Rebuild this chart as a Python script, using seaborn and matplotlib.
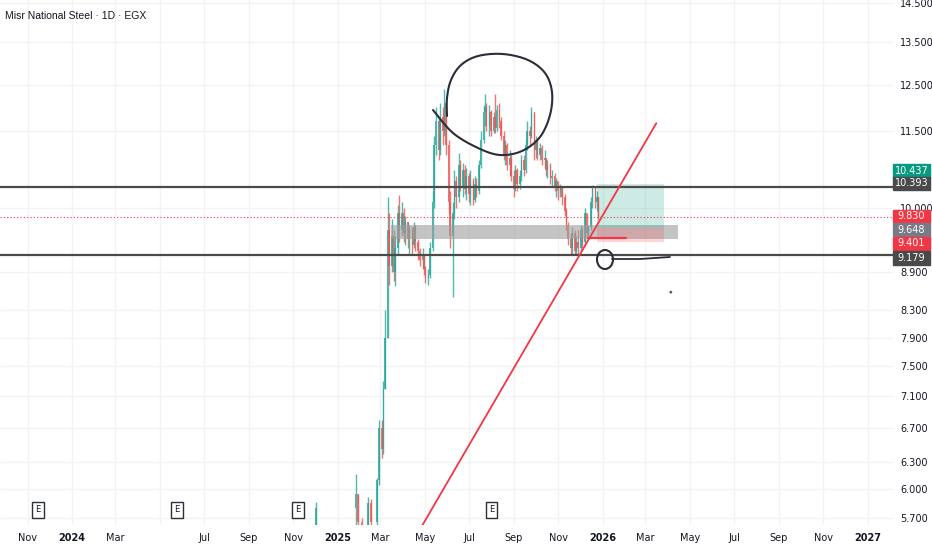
import matplotlib
matplotlib.use("Agg")
import matplotlib.pyplot as plt
import matplotlib.transforms as mtransforms
from matplotlib.patches import Rectangle, Ellipse
from matplotlib.ticker import NullLocator
import numpy as np
import pandas as pd
import seaborn as sns

# --- data (daily candles, thinned to every 2nd session) ---
early_dates = ["2024-12-02", "2025-01-26", "2025-01-29", "2025-02-03",
               "2025-02-12", "2025-02-16", "2025-02-24"]
early_close = [5.80, 5.95, 5.65, 5.62, 5.85, 5.65, 6.10]
early_high = [5.86, 6.17, 5.95, 5.70, 5.92, 5.90, 6.12]
early_low = [5.55, 5.55, 5.60, 5.58, 5.55, 5.60, 5.60]
first_open = 5.60

main_start = "2025-02-27"
main_close = [6.7, 6.45, 7.2, 7.9, 9.6, 9.0, 9.5, 8.9, 9.3, 9.9,
              9.6, 9.9, 9.55, 9.75, 9.45, 9.6, 9.35, 9.65, 9.4, 9.25,
              9.1, 9.2, 8.95, 8.8, 8.85, 9.3, 10.1, 11.2, 11.7, 11.1,
              11.8, 11.5, 12.1, 11.2, 10.1, 9.5, 9.9, 10.5, 10.2, 10.8,
              10.4, 10.7, 10.35, 10.6, 10.25, 10.5, 10.15, 10.45, 10.3, 10.8,
              11.3, 11.9, 12.0, 11.6, 11.9, 11.5, 11.8, 11.55, 11.95, 11.7,
              11.4, 11.0, 11.2, 10.8, 10.95, 10.6, 10.35, 10.7, 10.45, 10.6,
              10.9, 10.7, 11.2, 11.5, 11.4, 11.9, 11.1, 11.3, 11.0, 11.15,
              10.9, 10.95, 10.7, 10.8, 10.55, 10.6, 10.4, 10.5, 10.3, 10.4,
              10.2, 9.95, 9.7, 9.45, 9.3, 9.55, 9.25, 9.4, 9.3, 9.6,
              9.4, 9.9, 9.55, 9.65, 10.1, 10.35, 10.1, 10.2, 9.83]
main_high = [6.8, 6.8, 7.3, 8.3, 10.2, 9.9, 9.8, 9.6, 9.5, 10.05,
             10.24, 10.1, 10.0, 9.85, 9.75, 9.7, 9.65, 9.75, 9.7, 9.45,
             9.3, 9.3, 9.2, 9.0, 8.95, 9.4, 10.3, 11.4, 12.0, 11.8,
             12.1, 12.0, 12.4, 12.1, 11.3, 10.3, 10.1, 10.7, 10.6, 11.05,
             10.9, 10.85, 10.8, 10.75, 10.65, 10.7, 10.55, 10.6, 10.55, 10.9,
             11.5, 12.05, 12.3, 12.1, 12.05, 11.95, 11.9, 12.3, 12.05, 12.1,
             11.8, 11.5, 11.3, 11.25, 11.1, 11.0, 10.7, 10.8, 10.75, 10.7,
             11.0, 11.0, 11.3, 11.7, 11.6, 12.0, 11.9, 11.4, 11.35, 11.25,
             11.2, 11.1, 10.95, 10.9, 10.85, 10.7, 10.65, 10.55, 10.5, 10.45,
             10.4, 10.25, 10.0, 9.75, 9.55, 9.65, 9.6, 9.5, 9.6, 9.7,
             9.65, 10.0, 9.9, 9.7, 10.2, 10.43, 10.4, 10.3, 10.2]
main_low = [6.05, 6.35, 6.4, 7.2, 7.9, 8.7, 8.9, 8.75, 8.68, 9.2,
            9.4, 9.5, 9.4, 9.35, 9.3, 9.2, 9.2, 9.3, 9.25, 9.1,
            9.0, 8.95, 8.85, 8.72, 8.7, 8.8, 9.25, 10.0, 11.0, 10.9,
            11.0, 11.2, 11.4, 11.0, 9.9, 9.3, 8.5, 9.8, 10.0, 10.1,
            10.3, 10.2, 10.25, 10.15, 10.1, 10.05, 10.05, 10.1, 10.2, 10.25,
            10.75, 11.25, 11.6, 11.5, 11.4, 11.4, 11.45, 11.45, 11.5, 11.55,
            11.3, 10.9, 10.8, 10.7, 10.6, 10.5, 10.2, 10.3, 10.3, 10.35,
            10.5, 10.6, 10.65, 11.1, 11.2, 11.35, 10.9, 10.95, 10.9, 10.9,
            10.8, 10.75, 10.6, 10.55, 10.45, 10.4, 10.3, 10.2, 10.15, 10.2,
            10.05, 9.85, 9.6, 9.35, 9.2, 9.2, 9.18, 9.18, 9.2, 9.25,
            9.3, 9.35, 9.5, 9.45, 9.6, 10.0, 10.0, 9.95, 9.8]

# levels drawn on the chart
resistance = 10.393
support = 9.179
last_price = 9.830
zone_low, zone_high = 9.45, 9.69
zone_start, zone_end = "2025-03-15", "2026-04-15"
pos_entry, pos_target, pos_stop = 9.648, 10.437, 9.401
pos_start, pos_end = "2025-12-24", "2026-03-27"
stop_line = ("2025-12-12", "2026-02-02", 9.46)
trend_dates = ["2025-04-28", "2026-03-16"]
trend_prices = [5.623, 11.66]
earnings_dates = ["2023-11-15", "2024-05-25", "2024-11-07", "2025-08-01"]
dot_date, dot_price = "2026-04-05", 8.58

price_ticks = [5.7, 6.0, 6.3, 6.7, 7.1, 7.5, 7.9, 8.3, 8.9, 10.0, 11.5, 12.5, 13.5, 14.5]
month_ticks = ["2023-11-01", "2024-01-01", "2024-03-01", "2024-05-01", "2024-07-01",
               "2024-09-01", "2024-11-01", "2025-01-01", "2025-03-01", "2025-05-01",
               "2025-07-01", "2025-09-01", "2025-11-01", "2026-01-01", "2026-03-01",
               "2026-05-01", "2026-07-01", "2026-09-01", "2026-11-01", "2027-01-01"]
month_labels = ["Nov", "2024", "Mar", "", "Jul", "Sep", "Nov", "2025", "Mar", "May",
                "Jul", "Sep", "Nov", "2026", "Mar", "May", "Jul", "Sep", "Nov", "2027"]

UP = "#26a69a"
DOWN = "#ef5350"
INK = "#131722"
PEN = "#2a2e39"

# --- build frame ---
dates = pd.to_datetime(early_dates).append(
    pd.bdate_range(main_start, periods=len(main_close), freq="2B"))
close = np.array(early_close + main_close)
df = pd.DataFrame({
    "date": dates,
    "open": np.concatenate([[first_open], close[:-1]]),
    "high": early_high + main_high,
    "low": early_low + main_low,
    "close": close,
})
df["high"] = df[["high", "open", "close"]].max(axis=1)
df["low"] = df[["low", "open", "close"]].min(axis=1)
df["color"] = np.where(df["close"] >= df["open"], UP, DOWN)

sns.set_theme(style="white")
plt.rcParams["font.family"] = ["DejaVu Sans"]

W, H = 932, 550
AX_R, AX_B = 893, 525
fig = plt.figure(figsize=(W / 100, H / 100), dpi=100)
ax = fig.add_axes([0, (H - AX_B) / H, AX_R / W, AX_B / H])
ax.set_yscale("log")
ax.set_ylim(5.623, 14.58)
ax.set_xlim(pd.Timestamp("2023-09-24"), pd.Timestamp("2027-02-05"))

# grid
for d in month_ticks:
    ax.axvline(pd.Timestamp(d), color="#f3f3f3", lw=1, zorder=0)
for p in price_ticks:
    ax.axhline(p, color="#f3f3f3", lw=1, zorder=0)

# candles
ax.vlines(df["date"], df["low"], df["high"], colors=df["color"], lw=1.0, alpha=0.8, zorder=2)
body_lo = df[["open", "close"]].min(axis=1)
body_h = np.maximum((df["close"] - df["open"]).abs(), 0.02)
ax.bar(df["date"], body_h, bottom=body_lo, width=2.0, color=df["color"], alpha=0.8,
       linewidth=0, zorder=2)

# zone + position
ax.fill_between(pd.to_datetime([zone_start, zone_end]), zone_low, zone_high,
                color="#9e9e9e", alpha=0.6, lw=0, zorder=3)
pos_x = pd.to_datetime([pos_start, pos_end])
ax.fill_between(pos_x, pos_entry, pos_target, color="#089981", alpha=0.2, lw=0, zorder=3)
ax.fill_between(pos_x, pos_stop, pos_entry, color="#f23645", alpha=0.2, lw=0, zorder=3)

# levels
ax.axhline(resistance, color="#4a4a4a", lw=1.6, zorder=4)
ax.axhline(support, color="#4a4a4a", lw=1.6, zorder=4)
ax.axhline(last_price, color="#f23645", lw=0.8, ls=(0, (1, 2)), zorder=4)

# trend line + stop stroke
sns.lineplot(x=pd.to_datetime(trend_dates), y=trend_prices, color="#f23645", lw=1.3, ax=ax, zorder=5)
ax.plot(pd.to_datetime(stop_line[:2]), [stop_line[2]] * 2, color="#f23645", lw=1.6, zorder=5)


# hand drawings (pixel positions inside the axes)
def px(x, y):
    return x / AX_R, 1 - y / AX_B


def smooth(pts, n=10):
    # catmull-rom through the pen points
    p = np.array(pts, dtype=float)
    p = np.vstack([p[0], p, p[-1]])
    out = []
    t = np.linspace(0, 1, n, endpoint=False)[:, None]
    for i in range(1, len(p) - 2):
        p0, p1, p2, p3 = p[i - 1], p[i], p[i + 1], p[i + 2]
        out.append(0.5 * (2 * p1 + (-p0 + p2) * t + (2 * p0 - 5 * p1 + 4 * p2 - p3) * t ** 2
                          + (-p0 + 3 * p1 - 3 * p2 + p3) * t ** 3))
    out.append(p[-2][None, :])
    return np.vstack(out)


loop = [(433, 110), (453, 133), (478, 148), (500, 155), (522, 151), (540, 137),
        (550, 115), (552, 92), (545, 73), (528, 60), (503, 54), (478, 56),
        (461, 65), (451, 80), (447, 98), (447, 116)]
curve = smooth(loop)
ax.plot(curve[:, 0] / AX_R, 1 - curve[:, 1] / AX_B, color=PEN, lw=1.5,
        transform=ax.transAxes, zorder=6, solid_capstyle="round")
ax.add_patch(Ellipse(px(605, 259.5), 16 / AX_R, 19 / AX_B, transform=ax.transAxes,
                     fill=False, ec=PEN, lw=1.5, zorder=6))
sx, sy = zip(*[px(612, 259), px(640, 259), px(670, 257)])
ax.plot(sx, sy, color=PEN, lw=1.3, transform=ax.transAxes, zorder=6)
sns.scatterplot(x=pd.to_datetime([dot_date]), y=[dot_price], s=4, color="#555555",
                edgecolor="none", ax=ax, zorder=6)

# earnings markers
trans = mtransforms.blended_transform_factory(ax.transData, ax.transAxes)
for d in earnings_dates:
    ax.text(pd.Timestamp(d), 1 - 510 / AX_B, "E", transform=trans, fontsize=6, color=INK,
            ha="center", va="center", zorder=7,
            bbox=dict(boxstyle="square,pad=0.4", fc="white", ec=PEN, lw=1.0))

# axes
ax.set_xticks(pd.to_datetime(month_ticks))
ax.set_xticklabels(month_labels)
for lab in ax.get_xticklabels():
    if lab.get_text().isdigit():
        lab.set_fontweight("bold")
ax.yaxis.tick_right()
ax.set_yticks(price_ticks)
ax.set_yticklabels([f"{p:.3f}" for p in price_ticks])
ax.yaxis.set_minor_locator(NullLocator())
ax.tick_params(axis="x", length=0, pad=6, labelsize=7, colors=INK)
ax.tick_params(axis="y", length=0, pad=5, labelsize=7, colors=INK)
ax.set_xlabel("")
ax.set_ylabel("")
ax.grid(False)
for s in ax.spines.values():
    s.set_visible(False)

# price tags on the scale
tags = [("10.437", 171, "#089981"), ("10.393", 183.5, "#4a4a4a"),
        ("9.830", 216.5, "#f23645"), ("9.648", 230, "#787b86"),
        ("9.401", 243.5, "#f23645"), ("9.179", 258, "#4a4a4a")]
for text, yc, col in tags:
    fig.patches.append(Rectangle((AX_R / W, 1 - (yc + 6.5) / H), 37 / W, 13 / H,
                                 transform=fig.transFigure, color=col, zorder=5))
    fig.text((AX_R + 18.5) / W, 1 - yc / H, text, color="white", fontsize=7,
             ha="center", va="center", zorder=6)

fig.text(5 / W, 1 - 16 / H, "Misr National Steel · 1D · EGX", fontsize=7.5,
         family=["Liberation Sans Narrow", "Liberation Sans", "DejaVu Sans"],
         color=INK, ha="left", va="center")

fig.savefig("out.png", dpi=100, facecolor="white")
